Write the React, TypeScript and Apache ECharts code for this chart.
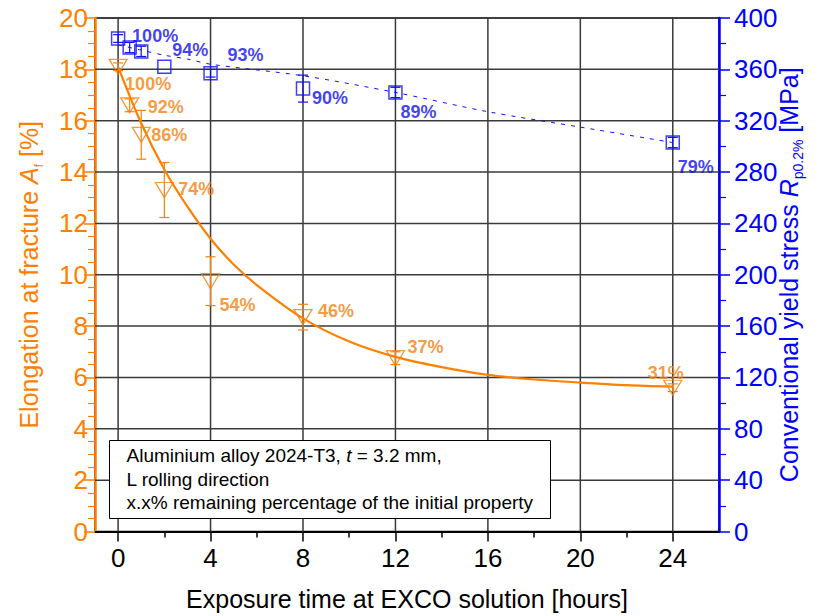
import React, { useEffect, useRef } from "react";
import * as echarts from "echarts";

// Exposure time in EXCO solution [hours]
const exposureHours = [0, 0.5, 1, 2, 4, 8, 12, 24];

// Elongation at fracture A_f [%] and its scatter
const elongation = [18.1, 16.6, 15.45, 13.3, 9.75, 8.35, 6.75, 5.6];
const elongationErr = [0.15, 0.25, 0.95, 1.07, 0.95, 0.5, 0.25, 0.15];
const elongationPct = ["100%", "92%", "86%", "74%", "54%", "46%", "37%", "31%"];

// Conventional yield stress Rp0.2% [MPa] and its scatter
const yieldStress = [384, 377, 374, 362, 357, 345, 342, 303];
const yieldErr = [3, 4, 4, 0, 3, 10.5, 4, 4];
const yieldPct = ["100%", "", "", "94%", "93%", "90%", "89%", "79%"];

// Fitted trend of the elongation (exponential decay)
const elongFitX = [0, 1, 2, 3, 4, 5, 6, 8, 10, 12, 14, 16, 18, 20, 22, 24];
const elongFitY = [18.1, 15.9, 14.1, 12.65, 11.4, 10.4, 9.6, 8.3, 7.4, 6.8, 6.4, 6.1, 5.92, 5.8, 5.7, 5.64];

// Fitted trend of the yield stress
const yieldFitX = [0, 1, 2, 3, 4, 8, 12, 16, 20, 24];
const yieldFitY = [379, 375, 371, 368, 364, 355, 342, 327, 315, 303];

// Axis ranges and ticks
const X_MIN = -1;
const X_MAX = 26;
const Y_MIN = 0;
const Y_MAX = 20;
const xMajorTicks = [0, 4, 8, 12, 16, 20, 24];
const xMinorTicks = [2, 6, 10, 14, 18, 22];
const yGridValues = [2, 4, 6, 8, 10, 12, 14, 16, 18];

// Label placement (pixel offsets from the marker centre)
const elongLabelOffsets = [[7, 17], [18, 2], [10, 0], [14, -1], [9, 24], [15, -6], [12, -11], [-25, -15]];
const yieldLabelOffsets = [[14, -3], [0, 0], [0, 0], [8, -17], [17, -18], [9, 9], [5, 20], [5, 24]];

const ORANGE = "#FF8000";
const ORANGE_MARK = "#F2820F";
const BLUE = "#0000FF";
const BLUE_MARK = "#0F0FF0";
const GRID = "#3a3a3a";
const FONT = "'Liberation Sans', Arial, Helvetica, sans-serif";

function errorBars(xs: number[], ys: number[], errs: number[], yAxisIndex: number, color: string) {
  const data = xs
    .map((x, i) => [x, ys[i] - errs[i], ys[i] + errs[i]])
    .filter((_, i) => errs[i] > 0);
  return {
    type: "custom",
    xAxisIndex: 0,
    yAxisIndex,
    silent: true,
    z: 3,
    data,
    encode: { x: 0, y: [1, 2] },
    renderItem: (_params: any, api: any) => {
      const lo = api.coord([api.value(0), api.value(1)]);
      const hi = api.coord([api.value(0), api.value(2)]);
      const w = 5;
      const style = { stroke: color, lineWidth: 1.2, fill: "none" };
      return {
        type: "group",
        children: [
          { type: "line", shape: { x1: lo[0], y1: lo[1], x2: hi[0], y2: hi[1] }, style },
          { type: "line", shape: { x1: lo[0] - w, y1: lo[1], x2: lo[0] + w, y2: lo[1] }, style },
          { type: "line", shape: { x1: hi[0] - w, y1: hi[1], x2: hi[0] + w, y2: hi[1] }, style },
        ],
      };
    },
  };
}

// Grid lines drawn through the axes' own scales
function gridLines(values: number[], vertical: boolean) {
  return {
    type: "custom",
    xAxisIndex: 0,
    yAxisIndex: 0,
    silent: true,
    z: 1,
    data: values.map((v) => [v, v]),
    renderItem: (_params: any, api: any) => {
      const v = api.value(0);
      const a = vertical ? api.coord([v, Y_MIN]) : api.coord([X_MIN, v]);
      const b = vertical ? api.coord([v, Y_MAX]) : api.coord([X_MAX, v]);
      return {
        type: "line",
        shape: { x1: a[0], y1: a[1], x2: b[0], y2: b[1] },
        style: { stroke: GRID, lineWidth: 1.5 },
      };
    },
  };
}

function pctLabels(xs: number[], ys: number[], texts: string[], offsets: number[][], yAxisIndex: number, color: string) {
  return {
    type: "scatter",
    xAxisIndex: 0,
    yAxisIndex,
    silent: true,
    z: 6,
    symbolSize: 0,
    itemStyle: { color: "rgba(0,0,0,0)" },
    data: xs
      .map((x, i) => ({
        value: [x, ys[i]],
        label: { offset: offsets[i], formatter: texts[i] },
      }))
      .filter((_, i) => texts[i] !== ""),
    label: {
      show: true,
      position: "inside",
      align: "left",
      verticalAlign: "middle",
      color,
      fontFamily: FONT,
      fontSize: 18,
      fontWeight: "bold",
    },
  };
}

export default function App() {
  const ref = useRef<HTMLDivElement>(null);

  useEffect(() => {
    if (!ref.current) return;
    document.body.style.margin = "0";
    const chart = echarts.init(ref.current, null, { renderer: "svg" });

    const option: any = {
      animation: false,
      backgroundColor: "#ffffff",
      textStyle: { fontFamily: FONT },
      grid: {
        left: 95,
        right: 102,
        top: 18,
        bottom: 84.5,
        outerBoundsMode: "none",
        containLabel: false,
        show: true,
        borderColor: "#000",
        borderWidth: 1.5,
        backgroundColor: "rgba(0,0,0,0)",
      },
      xAxis: [
        {
          type: "value",
          min: X_MIN,
          max: X_MAX,
          position: "bottom",
          name: "Exposure time at EXCO solution [hours]",
          nameLocation: "middle",
          nameGap: 55,
          nameMoveOverlap: false,
          nameTextStyle: { fontSize: 25, color: "#000", fontFamily: FONT },
          axisLine: { show: true, onZero: false, lineStyle: { color: "#000", width: 2 } },
          axisTick: { show: true, customValues: xMajorTicks, length: 10, lineStyle: { color: "#000", width: 1.5 } },
          axisLabel: { show: true, customValues: xMajorTicks, fontSize: 26, color: "#000", margin: 13, fontFamily: FONT },
          splitLine: { show: false },
        },
        {
          type: "value",
          min: X_MIN,
          max: X_MAX,
          position: "bottom",
          axisLine: { show: false, onZero: false },
          axisTick: { show: true, customValues: xMinorTicks, length: 6, lineStyle: { color: "#000", width: 1.5 } },
          axisLabel: { show: false },
          splitLine: { show: false },
        },
      ],
      yAxis: [
        {
          type: "value",
          min: Y_MIN,
          max: Y_MAX,
          interval: 2,
          position: "left",
          name: "{n|Elongation at fracture }{i|A}{s|f}{n| [%]}",
          nameLocation: "middle",
          nameRotate: 90,
          nameGap: 50,
          nameMoveOverlap: false,
          nameTextStyle: {
            color: ORANGE,
            fontFamily: FONT,
            rich: {
              n: { fontSize: 25, color: ORANGE, fontFamily: FONT, lineHeight: 32 },
              i: { fontSize: 25, color: ORANGE, fontFamily: FONT, fontStyle: "italic", lineHeight: 32 },
              s: { fontSize: 12, color: ORANGE, fontFamily: FONT, verticalAlign: "bottom", lineHeight: 14 },
            },
          },
          axisLine: { show: true, onZero: false, lineStyle: { color: ORANGE, width: 2.5 } },
          axisTick: { show: true, length: 11, lineStyle: { color: ORANGE, width: 1.5 } },
          minorTick: { show: true, splitNumber: 4, length: 7, lineStyle: { color: ORANGE, width: 1.2 } },
          axisLabel: { fontSize: 26, color: ORANGE, margin: 7, fontFamily: FONT },
          splitLine: { show: false },
        },
        {
          type: "value",
          min: 0,
          max: 400,
          interval: 40,
          position: "right",
          name: "{n|Conventional yield stress }{i|R}{s|p0.2%}{n| [MPa]}",
          nameLocation: "middle",
          nameRotate: 90,
          nameGap: 54,
          nameMoveOverlap: false,
          nameTextStyle: {
            color: BLUE,
            fontFamily: FONT,
            rich: {
              n: { fontSize: 25, color: BLUE, fontFamily: FONT, lineHeight: 32 },
              i: { fontSize: 25, color: BLUE, fontFamily: FONT, fontStyle: "italic", lineHeight: 32 },
              s: { fontSize: 14, color: BLUE, fontFamily: FONT, verticalAlign: "bottom", lineHeight: 16 },
            },
          },
          axisLine: { show: true, onZero: false, lineStyle: { color: BLUE, width: 2.5 } },
          axisTick: { show: true, length: 11, lineStyle: { color: BLUE, width: 1.5 } },
          minorTick: { show: true, splitNumber: 2, length: 7, lineStyle: { color: BLUE, width: 1.2 } },
          axisLabel: { fontSize: 26, color: BLUE, margin: 15, fontFamily: FONT },
          splitLine: { show: false },
        },
      ],
      series: [
        gridLines(xMajorTicks, true),
        gridLines(yGridValues, false),
        // elongation trend
        {
          type: "line",
          xAxisIndex: 0,
          yAxisIndex: 0,
          smooth: 0.3,
          showSymbol: false,
          silent: true,
          z: 4,
          lineStyle: { color: ORANGE, width: 2.2 },
          data: elongFitX.map((x, i) => [x, elongFitY[i]]),
        },
        // yield stress trend
        {
          type: "line",
          xAxisIndex: 0,
          yAxisIndex: 1,
          smooth: 0.3,
          showSymbol: false,
          silent: true,
          z: 4,
          lineStyle: { color: BLUE_MARK, width: 1, type: [4, 6] },
          data: yieldFitX.map((x, i) => [x, yieldFitY[i]]),
        },
        errorBars(exposureHours, elongation, elongationErr, 0, ORANGE_MARK),
        errorBars(exposureHours, yieldStress, yieldErr, 1, BLUE_MARK),
        // elongation measurements
        {
          type: "scatter",
          xAxisIndex: 0,
          yAxisIndex: 0,
          symbol: "triangle",
          symbolRotate: 180,
          symbolSize: [18, 15],
          z: 5,
          itemStyle: { color: "rgba(255,255,255,0)", borderColor: ORANGE_MARK, borderWidth: 1.3 },
          data: exposureHours.map((x, i) => [x, elongation[i]]),
        },
        // yield stress measurements
        {
          type: "scatter",
          xAxisIndex: 0,
          yAxisIndex: 1,
          symbol: "rect",
          symbolSize: 13,
          z: 5,
          itemStyle: { color: "rgba(255,255,255,0)", borderColor: BLUE_MARK, borderWidth: 1.5 },
          data: exposureHours.map((x, i) => [x, yieldStress[i]]),
        },
        pctLabels(exposureHours, elongation, elongationPct, elongLabelOffsets, 0, ORANGE_MARK),
        pctLabels(exposureHours, yieldStress, yieldPct, yieldLabelOffsets, 1, BLUE_MARK),
      ],
      graphic: [
        {
          type: "group",
          left: 109,
          top: 440,
          z: 100,
          children: [
            {
              type: "rect",
              z: 100,
              shape: { x: 0, y: 0, width: 441, height: 78 },
              style: { fill: "#ffffff", stroke: "#000", lineWidth: 1 },
            },
            {
              type: "text",
              z: 101,
              x: 17,
              y: 15,
              style: {
                text: "{n|Aluminium alloy 2024-T3, }{i|t}{n| = 3.2 mm,}",
                verticalAlign: "middle",
                rich: {
                  n: { fontSize: 19, fontFamily: FONT, fill: "#000", color: "#000" },
                  i: { fontSize: 19, fontFamily: FONT, fontStyle: "italic", fill: "#000", color: "#000" },
                },
              },
            },
            {
              type: "text",
              z: 101,
              x: 17,
              y: 39,
              style: { text: "L rolling direction", font: `19px ${FONT}`, fill: "#000", verticalAlign: "middle" },
            },
            {
              type: "text",
              z: 101,
              x: 17,
              y: 62,
              style: {
                text: "x.x% remaining percentage of the initial property",
                font: `19px ${FONT}`,
                fill: "#000",
                verticalAlign: "middle",
              },
            },
          ],
        },
      ],
    };

    chart.setOption(option);
    return () => chart.dispose();
  }, []);

  return <div ref={ref} style={{ width: 821, height: 616, position: "absolute", left: 0, top: 0 }} />;
}
